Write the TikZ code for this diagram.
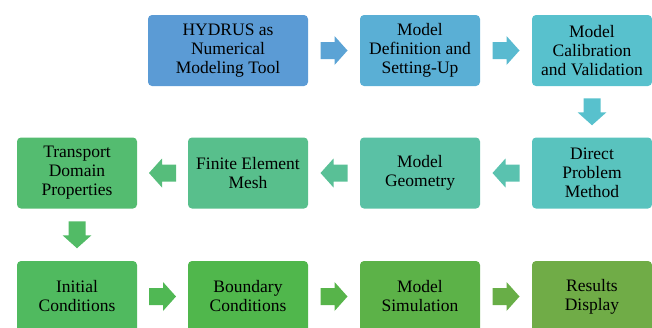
\documentclass[tikz,border=0pt]{standalone}
\usepackage{fontspec}
\setmainfont{Liberation Serif}
\usetikzlibrary{calc}
\definecolor{StepA}{RGB}{91,155,213}
\definecolor{StepB}{RGB}{90,175,213}
\definecolor{StepC}{RGB}{88,193,205}
\definecolor{StepD}{RGB}{89,195,190}
\definecolor{StepE}{RGB}{90,193,165}
\definecolor{StepF}{RGB}{88,191,140}
\definecolor{StepG}{RGB}{84,188,112}
\definecolor{StepH}{RGB}{80,186,95}
\definecolor{StepI}{RGB}{80,183,76}
\definecolor{StepJ}{RGB}{92,178,72}
\definecolor{StepK}{RGB}{112,172,71}
\tikzset{
  stepbox/.style={rounded corners=4pt,minimum width=120pt,minimum height=71pt,
    inner sep=0pt,align=center,font=\fontsize{17.5}{19}\selectfont}
}
\newcommand{\flowarrow}[3]{%
  \begin{scope}[shift={(#1)},rotate=#2]
    \fill[#3] (-13.5,-8.5) -- (0.5,-8.5) -- (0.5,-14.5) -- (13.5,0)
      -- (0.5,14.5) -- (0.5,8.5) -- (-13.5,8.5) -- cycle;
  \end{scope}}

\begin{document}
\begin{tikzpicture}[x=1pt,y=-1pt]
  \useasboundingbox (0,0) rectangle (652,327);
  \clip (0,0) rectangle (652,327);

  \node[stepbox,fill=StepA,minimum width=160pt] (hydrus) at (228,50.5)
    {HYDRUS as\\Numerical\\Modeling Tool};
  \node[stepbox,fill=StepB] (setup) at (420,50.5) {Model\\Definition and\\Setting-Up};
  \node[stepbox,fill=StepC] (calib) at (592,50.5) {Model\\Calibration\\and Validation};

  \node[stepbox,fill=StepD] (direct) at (592,173) {Direct\\Problem\\Method};
  \node[stepbox,fill=StepE] (geom) at (420,173) {Model\\Geometry};
  \node[stepbox,fill=StepF] (mesh) at (248,173) {Finite Element\\Mesh};
  \node[stepbox,fill=StepG] (transport) at (77,173) {Transport\\Domain\\Properties};

  \node[stepbox,fill=StepH] (initial) at (77,296.5) {Initial\\Conditions};
  \node[stepbox,fill=StepI] (boundary) at (248,296.5) {Boundary\\Conditions};
  \node[stepbox,fill=StepJ] (simul) at (420,296.5) {Model\\Simulation};
  \node[stepbox,fill=StepK] (results) at (592,296.5) {Results\\Display};

  \flowarrow{$(hydrus.east)!0.5!(setup.west)$}{0}{StepA!60!StepB}
  \flowarrow{$(setup.east)!0.5!(calib.west)$}{0}{StepB!40!StepC}
  \flowarrow{$(calib.south)!0.5!(direct.north)$}{-90}{StepC}
  \flowarrow{$(direct.west)!0.5!(geom.east)$}{180}{StepD!40!StepE}
  \flowarrow{$(geom.west)!0.5!(mesh.east)$}{180}{StepE!40!StepF}
  \flowarrow{$(mesh.west)!0.5!(transport.east)$}{180}{StepF!40!StepG}
  \flowarrow{$(transport.south)!0.5!(initial.north)$}{-90}{StepG!40!StepH}
  \flowarrow{$(initial.east)!0.5!(boundary.west)$}{0}{StepH!40!StepI}
  \flowarrow{$(boundary.east)!0.5!(simul.west)$}{0}{StepI!40!StepJ}
  \flowarrow{$(simul.east)!0.5!(results.west)$}{0}{StepJ!40!StepK}
\end{tikzpicture}
\end{document}
